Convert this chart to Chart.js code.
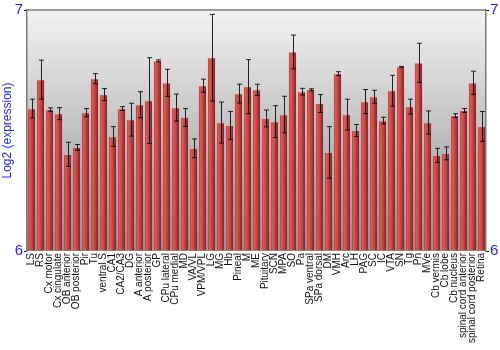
<!DOCTYPE html>
<html lang="en">
  <head>
    <meta charset="UTF-8" />
    <script src="https://cdn.jsdelivr.net/npm/chart.js"></script>
    <title>Log2 expression by region</title>
    <style>
      body { margin: 0; background: #fff; }
    </style>
  </head>
  <body>
    <canvas id="myChart" width="500" height="350"></canvas>

    <script>
      // brain regions along the x axis
      const regions = [
        "LS", "RS", "Cx motor", "Cx cingulate", "OB anterior", "OB posterior", "Pir", "Tu",
        "ventral S", "CA1", "CA2/CA3", "DG", "A anterior", "A posterior", "GP", "CPu lateral",
        "CPu medial", "MD", "VA/VL", "VPM/VPL", "LG", "MG", "Hb", "Pineal", "M", "ME",
        "Pituitary", "SCN", "MPA", "SO", "Pa", "SPa ventral", "SPa dorsal", "DM", "VMH", "Arc",
        "LH", "PAG", "SC", "IC", "VTA", "SN", "Tg", "Pn", "MVe", "Cb vermis", "Cb lobe",
        "Cb nucleus", "spinal cord anterior", "spinal cord posterior", "Retina",
      ];

      // mean log2 expression per region
      const expression = [
        6.591, 6.711, 6.587, 6.570, 6.401, 6.430, 6.574, 6.715,
        6.649, 6.475, 6.591, 6.545, 6.607, 6.624, 6.789, 6.698,
        6.595, 6.554, 6.426, 6.686, 6.802, 6.533, 6.521, 6.653, 6.682, 6.669,
        6.550, 6.537, 6.566, 6.826, 6.661, 6.669, 6.612, 6.409, 6.736, 6.566,
        6.500, 6.620, 6.640, 6.541, 6.665, 6.764, 6.599, 6.781, 6.533, 6.397, 6.405,
        6.562, 6.583, 6.698, 6.517,
      ];

      // +/- error for each bar
      const errors = [
        0.039, 0.081, 0.007, 0.025, 0.050, 0.012, 0.017, 0.021,
        0.025, 0.041, 0.008, 0.068, 0.054, 0.178, 0.004, 0.056,
        0.056, 0.037, 0.039, 0.027, 0.180, 0.085, 0.058, 0.039, 0.112, 0.023,
        0.035, 0.066, 0.076, 0.070, 0.014, 0.004, 0.037, 0.107, 0.008, 0.064,
        0.025, 0.050, 0.027, 0.014, 0.064, 0.002, 0.031, 0.081, 0.048, 0.029, 0.027,
        0.008, 0.008, 0.048, 0.062,
      ];

      const yTicks = [6, 7];
      const blue = "#1f1fff";

      // gray gradient behind the plot + frame
      const backgroundPlugin = {
        id: "plotBackground",
        beforeDraw(chart) {
          const { ctx, chartArea: a } = chart;
          const g = ctx.createLinearGradient(0, a.top, 0, a.bottom);
          g.addColorStop(0, "#f3f3f3");
          g.addColorStop(1, "#8e8e8e");
          ctx.save();
          ctx.fillStyle = g;
          ctx.fillRect(a.left, a.top, a.right - a.left, a.bottom - a.top);
          ctx.restore();
        },
        afterDraw(chart) {
          const { ctx, chartArea: a } = chart;
          ctx.save();
          ctx.strokeStyle = "#7a7a7a";
          ctx.lineWidth = 1.5;
          ctx.beginPath();
          ctx.moveTo(a.left, a.top);
          ctx.lineTo(a.right, a.top);
          ctx.stroke();
          ctx.restore();
        },
      };

      // error bars drawn on top of the bars
      const errorBarPlugin = {
        id: "errorBars",
        afterDatasetsDraw(chart) {
          const { ctx } = chart;
          const y = chart.scales.y;
          const meta = chart.getDatasetMeta(0);
          ctx.save();
          ctx.strokeStyle = "rgba(0,0,0,0.85)";
          ctx.lineWidth = 1;
          meta.data.forEach((bar, i) => {
            const x = Math.round(bar.x) + 0.5;
            const top = y.getPixelForValue(expression[i] + errors[i]);
            const bot = y.getPixelForValue(expression[i] - errors[i]);
            ctx.beginPath();
            ctx.moveTo(x, top);
            ctx.lineTo(x, bot);
            ctx.moveTo(x - 2.5, top);
            ctx.lineTo(x + 2.5, top);
            ctx.moveTo(x - 2.5, bot);
            ctx.lineTo(x + 2.5, bot);
            ctx.stroke();
          });
          ctx.restore();
        },
      };

      // horizontal shading across each bar
      function barFill(context) {
        const chart = context.chart;
        const xScale = chart.scales.x;
        if (!xScale || context.dataIndex === undefined) return "#c04040";
        const cx = xScale.getPixelForValue(context.dataIndex);
        if (!Number.isFinite(cx)) return "#c04040";
        const half = 4.2;
        const g = chart.ctx.createLinearGradient(cx - half, 0, cx + half, 0);
        g.addColorStop(0, "#a33030");
        g.addColorStop(0.25, "#d65c5c");
        g.addColorStop(0.55, "#c24343");
        g.addColorStop(1, "#7c1a1a");
        return g;
      }

      const tickFont = { family: "'Liberation Sans', Arial, sans-serif", size: 15 };

      const config = {
        type: "bar",
        data: {
          labels: regions,
          datasets: [
            {
              data: expression,
              backgroundColor: barFill,
              borderColor: "rgba(255,160,160,0.35)",
              borderWidth: 0.6,
              categoryPercentage: 1,
              barPercentage: 0.92,
              base: 6,
            },
          ],
        },
        options: {
          responsive: false,
          animation: false,
          layout: { padding: { top: 9, left: 0, right: 0, bottom: 0 } },
          plugins: {
            legend: { display: false },
            tooltip: { enabled: false },
          },
          scales: {
            x: {
              grid: { display: false, drawTicks: false },
              border: { display: false },
              ticks: {
                autoSkip: false,
                maxRotation: 90,
                minRotation: 90,
                padding: 2,
                color: "#111",
                font: { family: "'Liberation Sans', Arial, sans-serif", size: 10 },
              },
              afterFit: (s) => { s.height = 99; },
            },
            y: {
              position: "left",
              min: 6,
              max: 7,
              afterBuildTicks: (s) => { s.ticks = yTicks.map((v) => ({ value: v })); },
              ticks: { color: blue, font: tickFont, padding: 1 },
              grid: { drawOnChartArea: false, tickLength: 3, color: "#000" },
              border: { color: "#7a7a7a", width: 1.5 },
              title: {
                display: true,
                text: "Log2 (expression)",
                color: blue,
                padding: 0,
                font: { family: "'Liberation Sans', Arial, sans-serif", size: 12 },
              },
              afterFit: (s) => { s.width = 27; },
            },
            y2: {
              position: "right",
              min: 6,
              max: 7,
              afterBuildTicks: (s) => { s.ticks = yTicks.map((v) => ({ value: v })); },
              ticks: { color: blue, font: tickFont, padding: 1 },
              grid: { drawOnChartArea: false, tickLength: 3, color: "#000" },
              border: { color: "#7a7a7a", width: 1.5 },
              afterFit: (s) => { s.width = 14; },
            },
          },
        },
        plugins: [backgroundPlugin, errorBarPlugin],
      };

      var myChart = new Chart(document.getElementById("myChart"), config);
    </script>
  </body>
</html>
